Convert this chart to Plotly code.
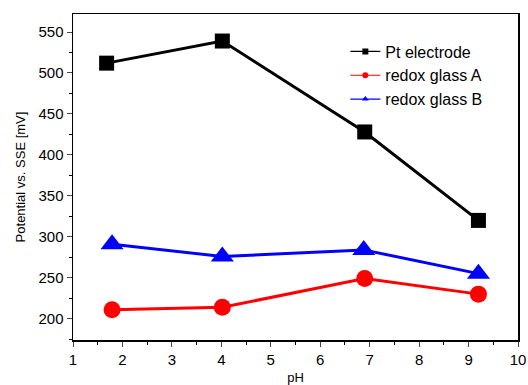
import plotly.graph_objects as go

ph_pt = [1.68, 4.02, 6.9, 9.2]
pt_electrode = [512, 539, 428, 320]
ph_a = [1.79, 4.02, 6.9, 9.2]
redox_glass_a = [211, 214, 249, 230]
ph_b = [1.79, 4.02, 6.88, 9.2]
redox_glass_b = [291, 276, 284, 255]

x_ticks = [1, 2, 3, 4, 5, 6, 7, 8, 9, 10]
y_ticks = [200, 250, 300, 350, 400, 450, 500, 550]

fig = go.Figure()
series = [
    ("Pt electrode", ph_pt, pt_electrode, "black", "square", 15),
    ("redox glass A", ph_a, redox_glass_a, "#ff0000", "circle", 17),
    ("redox glass B", ph_b, redox_glass_b, "#0000ff", "triangle-up", 20),
]
for name, xs, ys, col, sym, sz in series:
    fig.add_trace(go.Scatter(x=xs, y=ys, mode="lines+markers", name=name,
                             line=dict(color=col, width=3),
                             marker=dict(color=col, symbol=sym, size=sz),
                             showlegend=False))
for name, xs, ys, col, sym, sz in series:
    fig.add_trace(go.Scatter(x=[None], y=[None], mode="lines+markers", name=name,
                             line=dict(color=col, width=1.2),
                             marker=dict(color=col, symbol=sym, size=6),
                             showlegend=True))

fig.update_layout(
    width=528, height=385,
    margin=dict(l=73, r=10, t=14, b=45),
    paper_bgcolor="white", plot_bgcolor="white",
    font=dict(family="Liberation Sans, Arial", color="black", size=15),
    legend=dict(x=0.612, y=0.937, xanchor="left", yanchor="top",
                font=dict(size=16, color="black"), itemwidth=30, tracegroupgap=0,
                bgcolor="rgba(0,0,0,0)"),
    hovermode=False,
)
fig.update_xaxes(range=[1, 10], tickvals=x_ticks, ticks="outside", ticklen=5,
                 tickwidth=1, showline=True, linecolor="black", linewidth=1.5,
                 mirror=True, showgrid=False, zeroline=False, automargin=False,
                 minor=dict(dtick=0.5, ticks="outside", ticklen=3, tickcolor="black"),
                 title=dict(text="pH", font=dict(size=13, color="black"), standoff=6))
fig.update_yaxes(range=[174, 572], tickvals=y_ticks, ticks="outside", ticklen=5,
                 tickwidth=1, showline=True, linecolor="black", linewidth=1.5,
                 mirror=True, showgrid=False, zeroline=False, automargin=False,
                 minor=dict(dtick=25, tick0=0, ticks="outside", ticklen=3, tickcolor="black"),
                 title=dict(text="Potential vs. SSE [mV]", font=dict(size=13, color="black"), standoff=10))

fig.write_html("out.html", config={"displayModeBar": False, "staticPlot": True},
               post_script="document.body.style.margin='0';document.body.style.overflow='hidden';")
